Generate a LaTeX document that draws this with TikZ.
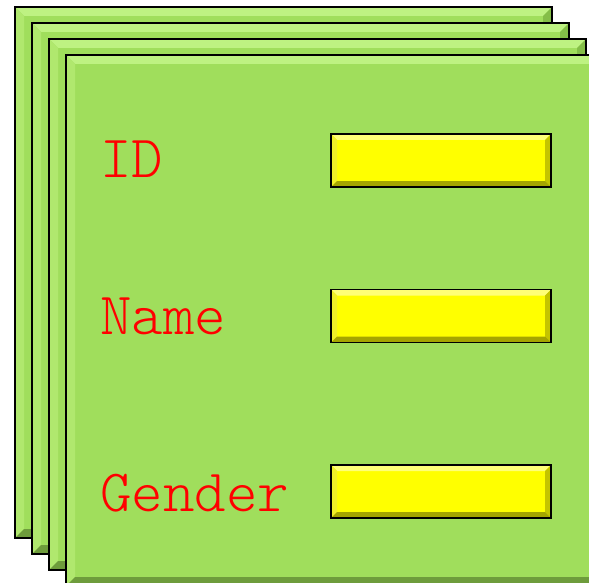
\documentclass[tikz,border=0pt]{standalone}
\usepackage{tikz}
\usetikzlibrary{positioning, calc}

\definecolor{cardgreen}{RGB}{160,222,92}
\definecolor{cardtop}{RGB}{190,242,130}
\definecolor{cardleft}{RGB}{176,232,110}
\definecolor{cardright}{RGB}{132,190,72}
\definecolor{cardbottom}{RGB}{110,156,60}
\definecolor{fieldyellow}{RGB}{255,255,0}
\definecolor{fieldtop}{RGB}{255,255,120}
\definecolor{fieldleft}{RGB}{240,240,40}
\definecolor{fieldright}{RGB}{196,196,0}
\definecolor{fieldbottom}{RGB}{165,165,0}

\tikzset{
  bevel/.style n args={5}{path picture={
    \coordinate (bnw) at (path picture bounding box.north west);
    \coordinate (bne) at (path picture bounding box.north east);
    \coordinate (bsw) at (path picture bounding box.south west);
    \coordinate (bse) at (path picture bounding box.south east);
    \fill[#2] (bnw) -- (bne) -- ([xshift=-#1,yshift=-#1]bne) -- ([xshift=#1,yshift=-#1]bnw) -- cycle;
    \fill[#3] (bnw) -- (bsw) -- ([xshift=#1,yshift=#1]bsw) -- ([xshift=#1,yshift=-#1]bnw) -- cycle;
    \fill[#4] (bne) -- (bse) -- ([xshift=-#1,yshift=#1]bse) -- ([xshift=-#1,yshift=-#1]bne) -- cycle;
    \fill[#5] (bsw) -- (bse) -- ([xshift=-#1,yshift=#1]bse) -- ([xshift=#1,yshift=#1]bsw) -- cycle;
  }},
}

\begin{document}
\begin{tikzpicture}[
  x=1pt, y=-1pt,
  card/.style={draw=black, line width=2pt, fill=cardgreen, anchor=north west,
               inner sep=0pt, minimum width=537pt, minimum height=531pt,
               bevel={9pt}{cardtop}{cardleft}{cardright}{cardbottom}},
  field/.style={draw=black, line width=1.6pt, fill=fieldyellow, inner sep=0pt,
                minimum width=220pt, minimum height=53pt,
                bevel={6pt}{fieldtop}{fieldleft}{fieldright}{fieldbottom}},
  lbl/.style={text=red, anchor=base west, inner sep=0pt,
              font=\ttfamily\fontseries{l}\fontsize{60}{66}\selectfont},
]
\useasboundingbox (0,0) rectangle (589,583);
\clip (0,0) rectangle (589,583);

% ---- Stacked cards ----------------------------------------------------------
\foreach \i/\cx/\cy in {1/14/6, 2/31/22, 3/48/38, 4/65/54} {
  \node[card] (card\i) at (\cx,\cy) {};
}

% ---- Labels and input fields ------------------------------------------------
\foreach \k/\txt/\by/\fy in {id/ID/178/160.5, name/Name/334/316, gender/Gender/511/491.5} {
  \node[lbl] (l\k) at (100,\by) {\txt};
  \node[field] (f\k) at (441,\fy) {};
}

\end{tikzpicture}
\end{document}
